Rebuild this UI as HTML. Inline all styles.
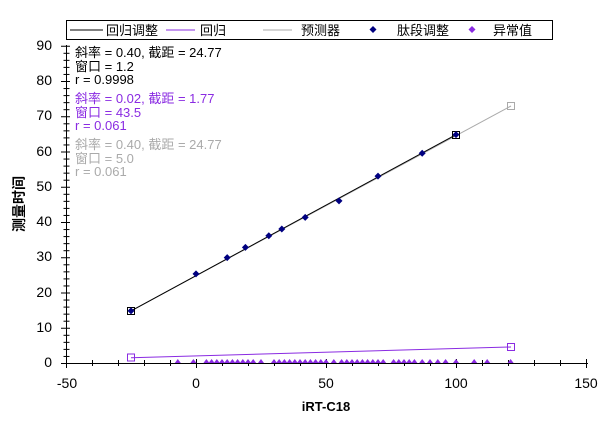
<!DOCTYPE html>
<html><head><meta charset="utf-8"><style>
body{margin:0;background:#fff;}
svg{font-family:"Liberation Sans","Noto Sans CJK SC",sans-serif;}
</style></head><body>
<svg width="612" height="426" xmlns="http://www.w3.org/2000/svg">
<rect width="612" height="426" fill="#fff"/>
<!-- legend -->
<rect x="66.5" y="20.5" width="486" height="19" fill="#fff" stroke="#000"/>
<g font-size="13">
<line x1="70" y1="30" x2="103" y2="30" stroke="#000"/><text x="106" y="35">回归调整</text>
<line x1="166" y1="30" x2="195" y2="30" stroke="#8a2be2"/><text x="200" y="35">回归</text>
<line x1="263" y1="30" x2="292" y2="30" stroke="#aaa"/><text x="301" y="35">预测器</text>
<path d="M373 26l3.5 3.5-3.5 3.5-3.5-3.5z" fill="#000080"/><text x="397" y="35">肽段调整</text>
<path d="M472 26l3.5 3.5-3.5 3.5-3.5-3.5z" fill="#8a2be2"/><text x="493" y="35">异常值</text>
</g>
<!-- axes -->
<g stroke="#000">
<line x1="66.5" y1="45" x2="66.5" y2="367"/>
<line x1="62" y1="363.5" x2="588" y2="363.5"/>
</g>
<g id="yt" stroke="#000"></g>
<g id="xt" stroke="#000"></g>
<g font-size="14" text-anchor="end">
<text x="52" y="50">90</text><text x="52" y="85">80</text><text x="52" y="120">70</text><text x="52" y="156">60</text><text x="52" y="191">50</text><text x="52" y="226">40</text><text x="52" y="261">30</text><text x="52" y="297">20</text><text x="52" y="332">10</text><text x="52" y="367">0</text>
</g>
<g font-size="14" text-anchor="middle">
<text x="67" y="388">-50</text><text x="196" y="388">0</text><text x="326" y="388">50</text><text x="456" y="388">100</text><text x="586" y="388">150</text>
</g>
<text x="326" y="411" font-size="13" font-weight="bold" text-anchor="middle">iRT-C18</text>
<text transform="translate(24,204) rotate(-90)" font-size="14" font-weight="bold" text-anchor="middle">测量时间</text>
<!-- stats -->
<g font-size="13">
<text x="75" y="57">斜率 = 0.40, 截距 = 24.77</text>
<text x="75" y="71">窗口 = 1.2</text>
<text x="75" y="84">r = 0.9998</text>
<g fill="#8a2be2"><text x="75" y="103">斜率 = 0.02, 截距 = 1.77</text><text x="75" y="117">窗口 = 43.5</text><text x="75" y="130">r = 0.061</text></g>
<g fill="#aaa"><text x="75" y="149">斜率 = 0.40, 截距 = 24.77</text><text x="75" y="163">窗口 = 5.0</text><text x="75" y="176">r = 0.061</text></g>
</g>
<!-- lines -->
<line x1="131" y1="310.9" x2="511" y2="106" stroke="#aaa"/>
<line x1="131" y1="310.9" x2="456" y2="134.7" stroke="#000"/>
<line x1="131" y1="357.7" x2="511" y2="347" stroke="#8a2be2"/>
<rect x="127.5" y="307.5" width="7" height="7" fill="none" stroke="#000"/>
<rect x="452.5" y="131.5" width="7" height="7" fill="none" stroke="#000"/>
<rect x="507.5" y="102.5" width="7" height="7" fill="none" stroke="#aaa"/>
<rect x="127.5" y="354" width="7" height="7" fill="none" stroke="#8a2be2"/>
<rect x="507.5" y="343.5" width="7" height="7" fill="none" stroke="#8a2be2"/>
<g id="pts" fill="#000080"></g>
<g id="out" fill="#8a2be2"></g>
</svg>
<script>
var ns="http://www.w3.org/2000/svg";
function X(v){return 196+v*2.6;}function Y(v){return 363-v*3.525;}
var yt=document.getElementById('yt');
for(var v=0;v<=90;v+=2){var l=document.createElementNS(ns,'line');var maj=v%10==0;l.setAttribute('x1',maj?61:63.5);l.setAttribute('x2',maj?70:69.5);var y=Y(v)+.5;l.setAttribute('y1',y);l.setAttribute('y2',y);yt.appendChild(l);}
var xt=document.getElementById('xt');
for(var v=-50;v<=150;v+=10){var l=document.createElementNS(ns,'line');var maj=v%50==0;var x=Math.round(X(v))+.5;l.setAttribute('x1',x);l.setAttribute('x2',x);l.setAttribute('y1',maj?359:360);l.setAttribute('y2',maj?368:366);xt.appendChild(l);}
var P=[[-25,14.8],[0,25.3],[12,29.9],[19,32.8],[28,36.1],[33,38],[42,41.3],[55,46],[70,53],[87,59.5],[100,64.8]];
var g=document.getElementById('pts');
P.forEach(function(p){var x=X(p[0]),y=Y(p[1]);var e=document.createElementNS(ns,'path');e.setAttribute('d','M'+x+' '+(y-3.5)+'l3.5 3.5-3.5 3.5-3.5-3.5z');g.appendChild(e);});
var o=document.getElementById('out');
var xs=[-7,-1,4,6,8,10,12,14,16,18,20,22,25,30,32,34,36,38,40,42,44,46,48,50,53,56,58,60,62,64,66,68,70,72,76,78,80,82,84,87,90,93,96,100,107,112,121];
xs.forEach(function(v){var x=X(v);var e=document.createElementNS(ns,'path');e.setAttribute('d','M'+(x-3)+' 363L'+x+' 359L'+(x+3)+' 363z');o.appendChild(e);});
</script>
</body></html>
